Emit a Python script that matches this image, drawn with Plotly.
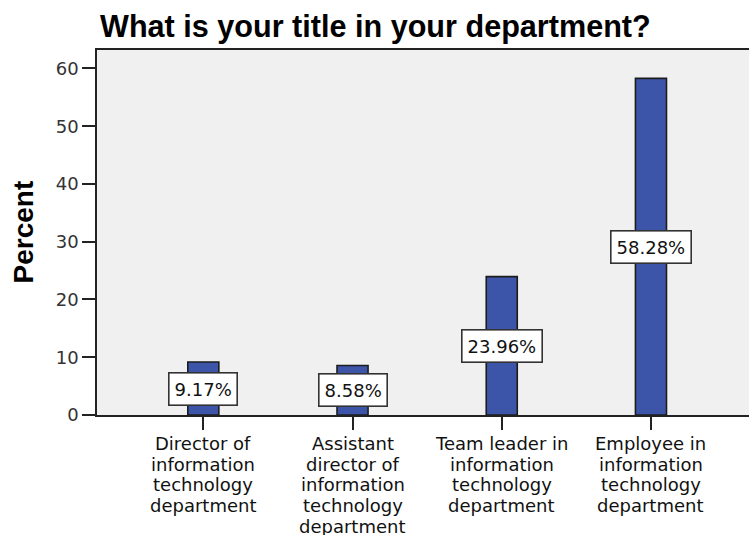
import plotly.graph_objects as go

# Survey responses: job title within the IT department
categories = [
    "Director of<br>information<br>technology<br>department",
    "Assistant<br>director of<br>information<br>technology<br>department",
    "Team leader in<br>information<br>technology<br>department",
    "Employee in<br>information<br>technology<br>department",
]
percents = [9.17, 8.58, 23.96, 58.28]
y_ticks = [0, 10, 20, 30, 40, 50, 60]

W, H = 749, 535
L, R, T, B = 97, 0, 50, 120
REG = "DejaVu Sans"
BOLD = "Liberation Sans"

xs = list(range(len(categories)))

fig = go.Figure()
fig.add_trace(go.Bar(
    x=xs,
    y=percents,
    width=0.208,
    marker=dict(color="#3D55A8", line=dict(color="#1c1c1c", width=1.6)),
    hoverinfo="skip",
))

annotations = []

# value labels in white boxes, centred at half the bar height
for x, v in zip(xs, percents):
    annotations.append(dict(
        x=x, y=v / 2, xref="x", yref="y",
        text=f"{v:.2f}%", showarrow=False,
        font=dict(family=REG, size=18, color="#111111"),
        bgcolor="white", bordercolor="#333333", borderwidth=1.6, borderpad=5,
        xanchor="center", yanchor="middle",
    ))

# category labels, one annotation per line for tight line spacing
LINE_STEP = 20.7
for x, label in zip(xs, categories):
    for i, line in enumerate(label.split("<br>")):
        annotations.append(dict(
            x=x, y=0, xref="x", yref="paper",
            text=line, showarrow=False,
            font=dict(family=REG, size=18, color="#111111"),
            xanchor="center", yanchor="top",
            yshift=-(16 + i * LINE_STEP),
        ))

# y-axis title
annotations.append(dict(
    x=(23 - L) / (W - L - R), y=0.5, xref="paper", yref="paper",
    text="<b>Percent</b>", showarrow=False, textangle=-90,
    font=dict(family=BOLD, size=28, color="#000000"),
    xanchor="center", yanchor="middle",
))

fig.update_layout(
    width=W, height=H,
    margin=dict(l=L, r=R, t=T, b=B, pad=0),
    paper_bgcolor="white",
    plot_bgcolor="#F0F0F0",
    showlegend=False,
    title=dict(
        text="<b>What is your title in your department?</b>",
        font=dict(family=BOLD, size=30.6, color="#000000"),
        x=100 / W, xref="container", xanchor="left",
        y=1 - 26 / H, yref="container", yanchor="middle",
    ),
    annotations=annotations,
    xaxis=dict(
        range=[-0.7125, 3.657],
        tickmode="array", tickvals=xs, ticktext=[""] * len(xs),
        showticklabels=False,
        ticks="outside", ticklen=13, tickwidth=1.6, tickcolor="#222222",
        showline=True, linecolor="#222222", linewidth=1.6, mirror=True,
        showgrid=False, zeroline=False, fixedrange=True,
    ),
    yaxis=dict(
        range=[0, 63.2],
        tickmode="array", tickvals=y_ticks,
        ticks="outside", ticklen=13, tickwidth=1.6, tickcolor="#222222",
        tickfont=dict(family=REG, size=18, color="#333333"),
        showline=True, linecolor="#222222", linewidth=1.6, mirror=False,
        showgrid=False, zeroline=False, fixedrange=True,
    ),
)

fig.write_html("out.html")
